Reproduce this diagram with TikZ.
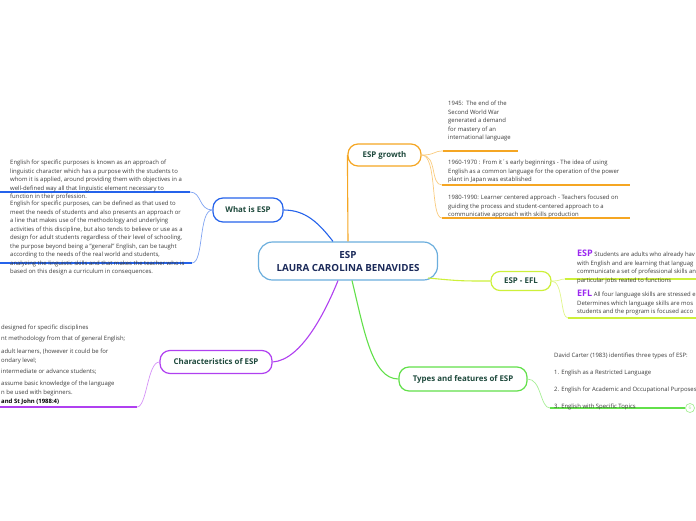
\documentclass[tikz,border=0pt]{standalone}
\usepackage{fontspec}
\setmainfont{Open Sans}
\definecolor{orM}{HTML}{F5A623}
\definecolor{orL}{HTML}{F9CB7E}
\definecolor{blM}{HTML}{2563EB}
\definecolor{blL}{HTML}{7FA3F2}
\definecolor{puM}{HTML}{B040F0}
\definecolor{puL}{HTML}{D592F7}
\definecolor{ygM}{HTML}{CDF03A}
\definecolor{ygL}{HTML}{E0F58A}
\definecolor{grM}{HTML}{62E04A}
\definecolor{grL}{HTML}{A6EE95}
\definecolor{ctrB}{HTML}{6BAEDD}
\definecolor{nodeTxt}{HTML}{1F4A3D}
\definecolor{ctrTxt}{HTML}{1B2A5A}
\definecolor{txt}{HTML}{3A3A3A}
\definecolor{espPu}{HTML}{9B27F0}
\tikzset{
  topic/.style={draw, line width=1.2pt, fill=white, rounded corners=10pt, font=\fontsize{7.9}{9}\selectfont\bfseries, text=nodeTxt, inner sep=0pt},
  small/.style={font=\fontsize{5.95}{8.5}\selectfont, text=txt, inner sep=0pt, align=left, anchor=north west},
  mainline/.style={line width=1.1pt},
  subline/.style={line width=0.7pt},
  uline/.style={line width=1.4pt},
}
\begin{document}
\begin{tikzpicture}[x=1pt,y=-1pt]
\useasboundingbox (0,0) rectangle (696,520);

% topics
\node[topic, draw=ctrB, rounded corners=14pt, minimum width=179pt, minimum height=38pt, text=ctrTxt, font=\fontsize{9.8}{13}\selectfont\bfseries, align=center] (c) at (348,261) {ESP\\LAURA CAROLINA BENAVIDES};
\node[topic, draw=orM, minimum width=73pt, minimum height=22pt] (g) at (384.5,155) {ESP growth};
\node[topic, draw=blM, minimum width=70pt, minimum height=24pt] (w) at (248,210) {What is ESP};
\node[topic, draw=puM, minimum width=112pt, minimum height=23pt] (ch) at (216,362) {Characteristics of ESP};
\node[topic, draw=ygM, minimum width=60pt, minimum height=19pt, rounded corners=9pt] (e) at (521,281) {ESP - EFL};
\node[topic, draw=grM, minimum width=128pt, minimum height=24pt] (t) at (463,379) {Types and features of ESP};

% main connectors
\draw[mainline, orM] (c.north) -- (g.west);
\draw[mainline, blM] (w.east) .. controls (305,210) and (318,222) .. ([xshift=-15pt]c.north);
\draw[mainline, puM] (ch.east) .. controls (302,360) and (326,310) .. ([xshift=-10pt]c.south);
\draw[mainline, grM] ([xshift=4pt]c.south) .. controls (364,330) and (372,379) .. (t.west);
\draw[mainline, ygM] (428,278) .. controls (460,281) .. (e.west);

% ESP growth children
\coordinate (g1a) at (443,151); \coordinate (g1b) at (518,151);
\coordinate (g2a) at (442,185); \coordinate (g2b) at (630,185);
\coordinate (g3a) at (442,218); \coordinate (g3b) at (630,218);
\draw[subline, orL] (g.east) .. controls +(14,0) and +(-10,0) .. (g1a);
\draw[subline, orL] (g.east) .. controls +(16,0) and +(-12,0) .. (g2a);
\draw[subline, orL] (g.east) .. controls +(16,0) and +(-12,0) .. (g3a);
\draw[uline, orM] (g1a) -- (g1b);
\draw[uline, orM] (g2a) -- (g2b);
\draw[uline, orM] (g3a) -- (g3b);
\node[small] (gt1) at (448,101) {1945:\ \ The end of the\\Second World War\\generated a demand\\for mastery of an\\international language};
\node[small] (gt2) at (448,160) {1960-1970 : From it´s early beginnings - The idea of using\\English as a common language for the operation of the power\\plant in Japan was established};
\node[small] (gt3) at (448,195) {1980-1990: Learner centered approach - Teachers focused on\\guiding the process and student-centered approach to a\\communicative approach with skills production};

% What is ESP children
\coordinate (w1a) at (0,192); \coordinate (w1b) at (190,192);
\coordinate (w2a) at (0,263); \coordinate (w2b) at (192,263);
\draw[subline, blL] (w.west) .. controls +(-14,0) and +(12,0) .. (w1b);
\draw[subline, blL] (w.west) .. controls +(-14,0) and +(12,0) .. (w2b);
\draw[uline, blM] (w1a) -- (w1b);
\draw[uline, blM] (w2a) -- (w2b);
\node[small] (wt1) at (10,160) {English for specific purposes is known as an approach of\\linguistic character which has a purpose with the students to\\whom it is applied, around providing them with objectives in a\\well-defined way all that linguistic element necessary to\\function in their profession.};
\node[small] (wt2) at (10,201) {English for specific purposes, can be defined as that used to\\meet the needs of students and also presents an approach or\\a line that makes use of the methodology and underlying\\activities of this discipline, but also tends to believe or use as a\\design for adult students regardless of their level of schooling,\\the purpose beyond being a "general" English, can be taught\\according to the needs of the real world and students,\\analyzing the linguistic skills and that makes the teacher who is\\based on this design a curriculum in consequences.};

% Characteristics children
\coordinate (ch1a) at (0,407); \coordinate (ch1b) at (137,407);
\draw[subline, puL] (ch.west) .. controls +(-12,0) and +(10,0) .. (ch1b);
\draw[uline, puM] (ch1a) -- (ch1b);
\node[small] (ct1) at (1,325) {designed for specific disciplines};
\node[small] (ct2) at (1,336) {nt methodology from that of general English;};
\node[small] (ct3) at (1,349) {adult learners, (however it could be for\\ondary level;};
\node[small] (ct4) at (1,369) {intermediate or advance students;};
\node[small] (ct5) at (1,381) {assume basic knowledge of the language\\n be used with beginners.};
\node[small, font=\fontsize{5.95}{8.5}\selectfont\bfseries, text=black] (ct6) at (1,399) {and St John (1988:4)};

% ESP - EFL children
\coordinate (e1a) at (565,279); \coordinate (e1b) at (696,279);
\coordinate (e2a) at (568,318); \coordinate (e2b) at (696,318);
\draw[subline, ygL] (e.east) .. controls +(10,0) and +(-6,0) .. (e1a);
\draw[subline, ygL] (e.east) .. controls +(12,0) and +(-8,0) .. (e2a);
\draw[uline, ygM] (e1a) -- (e1b);
\draw[uline, ygM] (e2a) -- (e2b);
\node[small] (et1) at (577,250) {{\fontsize{9}{9}\selectfont\bfseries\color{espPu}ESP} Students are adults who already hav\\with English and are learning that languag\\communicate a set of professional skills an\\particular jobs reated to functions};
\node[small] (et2) at (577,290) {{\fontsize{9}{9}\selectfont\bfseries\color{espPu}EFL} All four language skills are stressed e\\Determines which language skills are mos\\students and the program is focused acco};

% Types children
\coordinate (t1a) at (550,408); \coordinate (t1b) at (685,408);
\draw[subline, grL] (t.east) .. controls +(14,0) and +(-10,0) .. (t1a);
\draw[uline, grM] (t1a) -- (t1b);
\node[circle, draw=grL, line width=0.7pt, minimum size=9pt, inner sep=0pt, font=\fontsize{5}{5}\selectfont, text=grL] (tc) at (690,408) {6};
\node[small] (tt1) at (554,353) {David Carter (1983) identifies three types of ESP:};
\node[small] (tt2) at (554,370) {1. English as a Restricted Language};
\node[small] (tt3) at (554,387) {2. English for Academic and Occupational Purposes};
\node[small] (tt4) at (554,404) {3. English with Specific Topics};
\end{tikzpicture}
\end{document}
